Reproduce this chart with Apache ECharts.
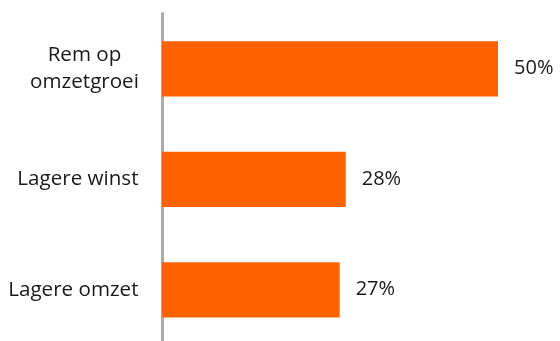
<!DOCTYPE html>
<html>
<head>
<meta charset="utf-8">
<script src="https://cdn.jsdelivr.net/npm/echarts@6/dist/echarts.min.js"></script>
<style>
html,body{margin:0;padding:0;background:#fff;overflow:hidden;}
#c{width:560px;height:346px;}
</style>
</head>
<body>
<div id="c"></div>
<script>
var categories = ['Rem op\nomzetgroei', 'Lagere winst', 'Lagere omzet'];
var values = [50.3, 27.5, 26.6];

var chart = echarts.init(document.getElementById('c'), null, {renderer: 'canvas'});
chart.setOption({
  animation: false,
  backgroundColor: '#ffffff',
  grid: {left: 162, top: 13.5, width: 367.4, height: 331.5, containLabel: false},
  xAxis: {
    type: 'value', min: 0, max: 55, show: false,
    splitLine: {show: false}
  },
  yAxis: {
    type: 'category',
    inverse: true,
    data: categories,
    offset: 1.5,
    axisTick: {show: false},
    axisLine: {show: true, lineStyle: {color: '#ababab', width: 3}},
    axisLabel: {
      margin: 22,
      fontFamily: 'Open Sans',
      fontSize: 20.6,
      color: '#1a1a1a',
      align: 'right',
      formatter: function (v) {
        if (v.indexOf('\n') >= 0) {
          return v.split('\n').map(function (s) { return '{c|' + s + '}'; }).join('\n');
        }
        return v;
      },
      rich: {
        c: {width: 108, align: 'center', fontFamily: 'Open Sans', fontSize: 20.6, color: '#1a1a1a', lineHeight: 27}
      }
    }
  },
  series: [{
    type: 'bar',
    data: values,
    barWidth: '50%',
    itemStyle: {color: '#ff6200'},
    label: {
      show: true,
      position: 'right',
      distance: 16,
      fontFamily: 'Open Sans',
      fontSize: 20,
      color: '#1a1a1a',
      formatter: function (p) { return Math.round(p.value) + '%'; }
    }
  }]
});
</script>
</body>
</html>
